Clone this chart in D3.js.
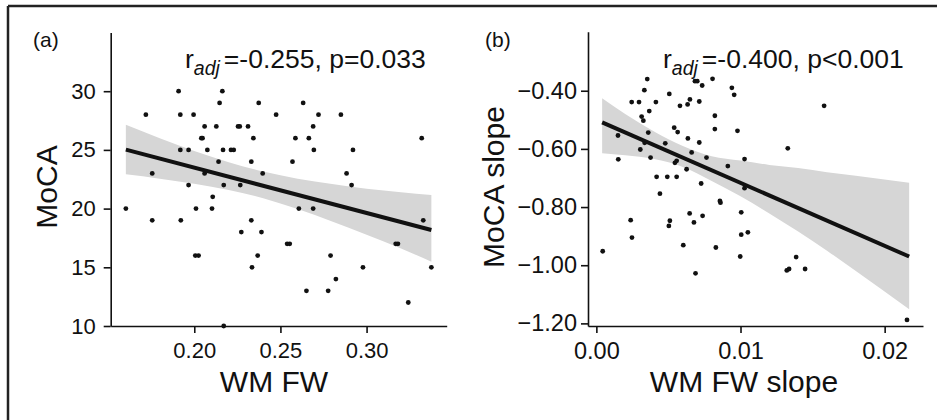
<!DOCTYPE html>
<html>
<head>
<meta charset="utf-8">
<script src="https://cdn.jsdelivr.net/npm/d3@7"></script>
<style>
  body { margin: 0; background: #fff; }
  svg { display: block; font-family: "Liberation Sans", Arial, sans-serif; }
</style>
</head>
<body>
<svg id="chart" width="937" height="420"></svg>
<script>
// --- panel (a) : MoCA vs WM FW ---
const fwA = [0.1909, 0.2163,
  0.2147, 0.2374, 0.2632,
  0.1719, 0.1919, 0.1996, 0.2475, 0.2721, 0.2851,
  0.2060, 0.2128, 0.2254, 0.2264, 0.2312, 0.2690,
  0.2041, 0.2048, 0.2343, 0.2587, 0.2665, 0.3320,
  0.1919, 0.1967, 0.2076, 0.2167, 0.2213, 0.2229, 0.2694, 0.2921,
  0.2141, 0.2331, 0.2570,
  0.1756, 0.2060, 0.2397, 0.2884,
  0.1967, 0.2171, 0.2267, 0.2913,
  0.2107,
  0.1603, 0.2010, 0.2103, 0.2607, 0.2690,
  0.1756, 0.1922, 0.2331, 0.3329,
  0.2273, 0.2390,
  0.2539, 0.2554, 0.3169, 0.3182,
  0.2006, 0.2025, 0.2368, 0.2791,
  0.2335, 0.2979, 0.3376,
  0.2822,
  0.2651, 0.2777,
  0.3242,
  0.2171];
const mocaA = [30, 30,
  29, 29, 29,
  28, 28, 28, 28, 28, 28,
  27, 27, 27, 27, 27, 27,
  26, 26, 26, 26, 26, 26,
  25, 25, 25, 25, 25, 25, 25, 25,
  24, 24, 24,
  23, 23, 23, 23,
  22, 22, 22, 22,
  21,
  20, 20, 20, 20, 20,
  19, 19, 19, 19,
  18, 18,
  17, 17, 17, 17,
  16, 16, 16, 16,
  15, 15, 15,
  14,
  13, 13,
  12,
  10];
const fitAx = [0.1603, 0.3376];
const fitAy = [25.02, 18.18];
const bandAx = [0.1603, 0.18, 0.20, 0.22, 0.24, 0.26, 0.28, 0.30, 0.32, 0.3376];
const bandAhi = [27.14, 26.0, 24.9, 23.95, 23.15, 22.55, 22.1, 21.7, 21.4, 21.16];
const bandAlo = [22.92, 22.55, 22.12, 21.59, 20.88, 19.96, 18.91, 17.77, 16.6, 15.48];
const ticksAx = [0.20, 0.25, 0.30];
const ticksAy = [10, 15, 20, 25, 30];

// --- panel (b) : MoCA slope vs WM FW slope ---
const fwSlopeB = [0.00353, 0.00333, 0.00506, 0.00684, 0.00700, 0.00734, 0.00806, 0.00940, 0.00956, 0.01580,
  0.00245, 0.00296, 0.00413, 0.00580, 0.00649, 0.00633, 0.00714, 0.00367, 0.00314, 0.00326,
  0.00822, 0.00540, 0.00564, 0.00822, 0.00150, 0.00360, 0.00478, 0.00335, 0.00305, 0.00635,
  0.00714, 0.00979, 0.01328, 0.00152, 0.00376, 0.00545, 0.00557, 0.00661, 0.00764, 0.01028,
  0.00912, 0.00626, 0.00418, 0.00492, 0.00557, 0.00727, 0.01028, 0.00441, 0.00857, 0.00861,
  0.00238, 0.00247, 0.00510, 0.00503, 0.00647, 0.00677, 0.00737, 0.01005, 0.00603, 0.00829,
  0.01005, 0.01051, 0.00998, 0.01386, 0.01321, 0.01337, 0.01448, 0.00688, 0.00044, 0.02155];
const mocaSlopeB = [-0.360, -0.398, -0.411, -0.367, -0.367, -0.382, -0.359, -0.390, -0.414, -0.452,
  -0.439, -0.439, -0.439, -0.452, -0.430, -0.447, -0.437, -0.470, -0.489, -0.503,
  -0.486, -0.527, -0.542, -0.532, -0.554, -0.544, -0.581, -0.579, -0.602, -0.564,
  -0.578, -0.538, -0.598, -0.636, -0.630, -0.648, -0.641, -0.612, -0.630, -0.635,
  -0.659, -0.670, -0.696, -0.696, -0.696, -0.719, -0.735, -0.754, -0.779, -0.785,
  -0.845, -0.905, -0.847, -0.865, -0.822, -0.853, -0.830, -0.818, -0.931, -0.939,
  -0.895, -0.887, -0.970, -0.972, -1.018, -1.013, -1.013, -1.028, -0.952, -1.188];
const fitBx = [0.0004, 0.0217];
const fitBy = [-0.509, -0.970];
const bandBx = [0.0004, 0.002, 0.004, 0.006, 0.008, 0.010, 0.012, 0.014, 0.016, 0.018, 0.0217];
const bandBhi = [-0.426, -0.48, -0.540, -0.590, -0.625, -0.640, -0.655, -0.666, -0.680, -0.692, -0.716];
const bandBlo = [-0.615, -0.622, -0.635, -0.662, -0.710, -0.763, -0.822, -0.884, -0.950, -1.020, -1.151];
const ticksBx = [0.00, 0.01, 0.02];
const ticksBy = [-1.2, -1.0, -0.8, -0.6, -0.4];

const svg = d3.select('#chart');

// cadre de la figure (haut + gauche)
svg.append('line').attr('x1', 8).attr('x2', 937).attr('y1', 6).attr('y2', 6)
  .attr('stroke', '#222').attr('stroke-width', 2.5);
svg.append('line').attr('x1', 8).attr('x2', 8).attr('y1', 6).attr('y2', 420)
  .attr('stroke', '#222').attr('stroke-width', 2.5);

function drawPanel(p) {
  const g = svg.append('g');
  const x = d3.scaleLinear().domain(p.xDomain).range([p.left, p.right]);
  const y = d3.scaleLinear().domain(p.yDomain).range([p.bottom, p.top]);

  // bande de confiance
  const area = d3.area()
    .x(i => x(p.bandX[i]))
    .y0(i => y(p.bandLo[i]))
    .y1(i => y(p.bandHi[i]))
    .curve(d3.curveMonotoneX);
  g.append('path')
    .attr('d', area(d3.range(p.bandX.length)))
    .attr('fill', '#d6d6d6');

  // points
  g.selectAll('circle.pt')
    .data(d3.range(p.xs.length))
    .enter()
    .append('circle')
    .attr('class', 'pt')
    .attr('cx', i => x(p.xs[i]))
    .attr('cy', i => y(p.ys[i]))
    .attr('r', 2.4)
    .attr('fill', '#111');

  // droite de regression
  const line = d3.line().x(i => x(p.fitX[i])).y(i => y(p.fitY[i]));
  g.append('path')
    .attr('d', line(d3.range(p.fitX.length)))
    .attr('fill', 'none')
    .attr('stroke', '#111')
    .attr('stroke-width', 4);

  // axes
  const xAxis = g.append('g')
    .attr('transform', `translate(0,${p.bottom})`)
    .call(d3.axisBottom(x).tickValues(p.xTicks).tickFormat(p.xFormat)
      .tickSize(7).tickSizeOuter(0).tickPadding(9));
  const yAxis = g.append('g')
    .attr('transform', `translate(${p.left},0)`)
    .call(d3.axisLeft(y).tickValues(p.yTicks).tickFormat(p.yFormat)
      .tickSize(7).tickSizeOuter(0).tickPadding(p.yPad));

  [xAxis, yAxis].forEach(a => {
    a.select('.domain').attr('stroke', '#111').attr('stroke-width', 1.6);
    a.selectAll('.tick line').attr('stroke', '#111').attr('stroke-width', 1.6);
    a.selectAll('.tick text')
      .attr('fill', '#111')
      .style('font-size', p.tickFont + 'px')
      .style('font-family', '"Liberation Sans", Arial, sans-serif');
  });

  // titres
  g.append('text')
    .attr('x', p.xTitleX).attr('y', 392)
    .attr('text-anchor', 'middle')
    .style('font-size', '30px')
    .attr('fill', '#111')
    .text(p.xTitle);
  g.append('text')
    .attr('transform', `translate(${p.yTitleX},187) rotate(-90)`)
    .attr('text-anchor', 'middle')
    .style('font-size', '30px')
    .attr('fill', '#111')
    .text(p.yTitle);

  // lettre du panneau
  g.append('text')
    .attr('x', p.letterX).attr('y', 47)
    .style('font-size', '21px')
    .attr('fill', '#111')
    .text(p.letter);

  // annotation r_adj
  const ann = g.append('text')
    .attr('x', p.annX).attr('y', 68)
    .style('font-size', '26.5px')
    .attr('fill', '#111');
  ann.append('tspan').text('r');
  ann.append('tspan')
    .attr('dy', 7)
    .style('font-size', '19.5px')
    .style('font-style', 'italic')
    .text('adj');
  ann.append('tspan')
    .attr('dy', -7)
    .attr('dx', 4)
    .text(p.annText);
}

drawPanel({
  left: 110.7, right: 446.7, top: 32.5, bottom: 326,
  xDomain: [0.1515, 0.3465], yDomain: [10, 35],
  xs: fwA, ys: mocaA,
  fitX: fitAx, fitY: fitAy,
  bandX: bandAx, bandLo: bandAlo, bandHi: bandAhi,
  xTicks: ticksAx, yTicks: ticksAy,
  xFormat: d3.format('.2f'), yFormat: d3.format('d'),
  tickFont: 22, yPad: 8,
  xTitle: 'WM FW', xTitleX: 274,
  yTitle: 'MoCA', yTitleX: 57,
  letter: '(a)', letterX: 33,
  annX: 185, annText: '=-0.255, p=0.033'
});

drawPanel({
  left: 588, right: 923, top: 31.7, bottom: 326,
  xDomain: [-0.00058, 0.02266], yDomain: [-1.209, -0.197],
  xs: fwSlopeB, ys: mocaSlopeB,
  fitX: fitBx, fitY: fitBy,
  bandX: bandBx, bandLo: bandBlo, bandHi: bandBhi,
  xTicks: ticksBx, yTicks: ticksBy,
  xFormat: d3.format('.2f'), yFormat: d3.format('.2f'),
  tickFont: 23.5, yPad: 4,
  xTitle: 'WM FW slope', xTitleX: 744,
  yTitle: 'MoCA slope', yTitleX: 504,
  letter: '(b)', letterX: 485,
  annX: 663, annText: '=-0.400, p<0.001'
});
</script>
</body>
</html>
